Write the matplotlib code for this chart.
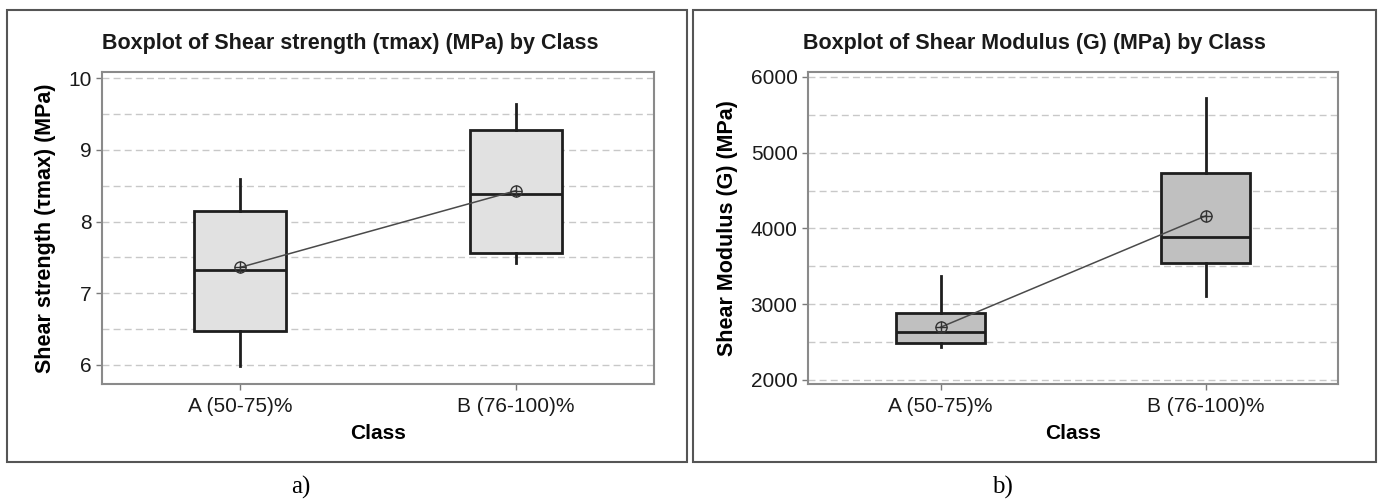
import matplotlib.pyplot as plt
from matplotlib.patches import Rectangle

plt.rcParams['font.family'] = ['Liberation Sans', 'DejaVu Sans']

classes = ["A (50-75)%", "B (76-100)%"]

# shear strength (MPa): whiskers, quartiles, median, mean per class
tau_low = [5.98, 7.42]
tau_q1 = [6.47, 7.56]
tau_med = [7.32, 8.38]
tau_q3 = [8.15, 9.27]
tau_high = [8.59, 9.64]
tau_mean = [7.36, 8.43]

# shear modulus (MPa)
g_low = [2440, 3110]
g_q1 = [2485, 3549]
g_med = [2630, 3892]
g_q3 = [2881, 4729]
g_high = [3373, 5719]
g_mean = [2696, 4165]


def make_stats(low, q1, med, q3, high, mean):
    stats = []
    for i in range(len(classes)):
        stats.append({"label": classes[i], "whislo": low[i], "q1": q1[i],
                      "med": med[i], "q3": q3[i], "whishi": high[i],
                      "mean": mean[i], "fliers": []})
    return stats


def draw_panel(ax, stats, means, fill, ylim, yticks, grid, ylabel):
    pos = [1, 2]
    ax.bxp(stats, positions=pos, widths=0.335, patch_artist=True,
           showcaps=False, showfliers=False,
           boxprops=dict(facecolor=fill, edgecolor="#1e1e1e", linewidth=2),
           medianprops=dict(color="#1e1e1e", linewidth=2),
           whiskerprops=dict(color="#1e1e1e", linewidth=2))
    # mean connect line with circled-plus symbols
    ax.plot(pos, means, color="#4a4a4a", linewidth=1.1, zorder=4)
    ax.plot(pos, means, linestyle="none", marker="o", markersize=8,
            markerfacecolor="none", markeredgecolor="#333333",
            markeredgewidth=1, zorder=5)
    ax.plot(pos, means, linestyle="none", marker="+", markersize=8,
            color="#333333", markeredgewidth=1, zorder=5)
    for g in grid:
        ax.axhline(g, color="#c8c8c8", linewidth=1, linestyle=(0, (5, 3)),
                   zorder=0)
    ax.set_xlim(0.5, 2.5)
    ax.set_ylim(*ylim)
    ax.set_yticks(yticks)
    ax.set_xticks(pos)
    ax.set_xticklabels(classes)
    ax.tick_params(labelsize=15, colors="#7a7a7a", labelcolor="#1a1a1a",
                   length=4, width=1)
    ax.tick_params(axis="x", pad=5)
    for s in ax.spines.values():
        s.set_color("#8a8a8a")
        s.set_linewidth(1.5)
    ax.set_xlabel("Class", fontsize=15, fontweight="bold", labelpad=6)
    ax.set_ylabel(ylabel, fontsize=15.5, fontweight="bold", labelpad=9)


fig = plt.figure(figsize=(13.8, 5.0), dpi=100)
W, H = 1380.0, 500.0

ax1 = fig.add_axes([102 / W, 1 - 384 / H, 552 / W, 312 / H])
ax2 = fig.add_axes([808 / W, 1 - 384 / H, 530 / W, 312 / H])

draw_panel(ax1, make_stats(tau_low, tau_q1, tau_med, tau_q3, tau_high, tau_mean),
           tau_mean, "#e1e1e1", (5.735, 10.084), [6, 7, 8, 9, 10],
           [6, 6.5, 7, 7.5, 8, 8.5, 9, 9.5, 10],
           "Shear strength (τmax) (MPa)")
draw_panel(ax2, make_stats(g_low, g_q1, g_med, g_q3, g_high, g_mean),
           g_mean, "#c0c0c0", (1947, 6066), [2000, 3000, 4000, 5000, 6000],
           [2000, 2500, 3000, 3500, 4000, 4500, 5000, 5500, 6000],
           "Shear Modulus (G) (MPa)")

fig.text(350 / W, 1 - 43 / H, "Boxplot of Shear strength (τmax) (MPa) by Class",
         ha="center", va="center", fontsize=15.5, fontweight="bold", color="#1a1a1a")
fig.text(1034 / W, 1 - 43 / H, "Boxplot of Shear Modulus (G) (MPa) by Class",
         ha="center", va="center", fontsize=15.5, fontweight="bold", color="#1a1a1a")

# panel frames
for x0, x1 in [(7, 687), (693, 1376)]:
    fig.patches.append(Rectangle((x0 / W, 1 - 462 / H), (x1 - x0) / W, 452 / H,
                                 transform=fig.transFigure, fill=False,
                                 edgecolor="#555555", linewidth=1.5))

fig.text(301 / W, 1 - 487 / H, "a)", ha="center", va="center",
         fontsize=18, family="Liberation Serif")
fig.text(1002 / W, 1 - 487 / H, "b)", ha="center", va="center",
         fontsize=18, family="Liberation Serif")

fig.savefig("out.png", dpi=100)
